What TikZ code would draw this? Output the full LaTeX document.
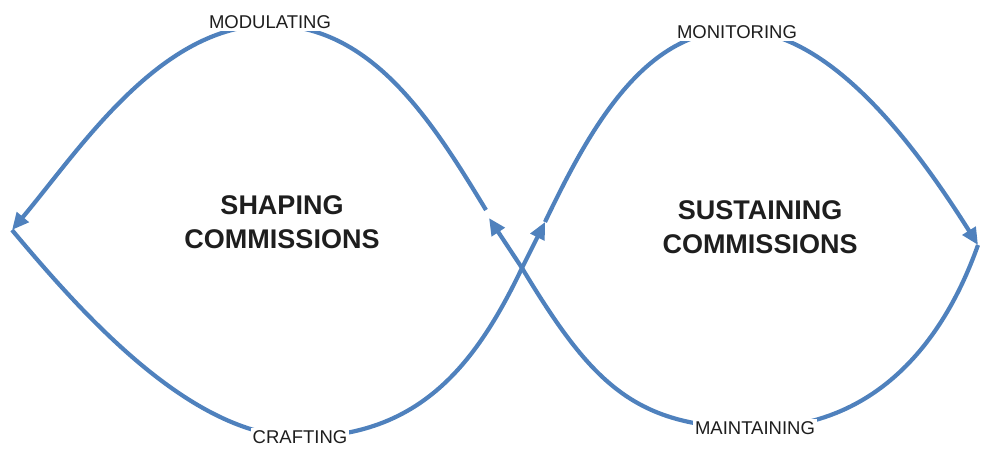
\documentclass[tikz,border=0pt]{standalone}
\usepackage{fontspec}
\setmainfont{Liberation Sans}
\usetikzlibrary{arrows.meta}
\definecolor{loopblue}{HTML}{4F81BD}
\definecolor{ink}{HTML}{1E1E1E}
\tikzset{
  loop/.style={draw=loopblue, line width=4.2pt, line cap=butt},
  tip/.style={-{Triangle[length=17pt,width=15pt]}},
  phase/.style={fill=white, text=ink, inner sep=2pt, font=\fontsize{18.5}{20}\selectfont},
  title/.style={text=ink, align=center, font=\fontsize{27}{34}\selectfont\bfseries}
}
\begin{document}
\begin{tikzpicture}[x=1pt,y=-1pt]
\useasboundingbox (0,0) rectangle (981,449);
% key points of the figure-eight
\coordinate (L)  at (12,230);
\coordinate (T1) at (270,25);
\coordinate (B1) at (300,437);
\coordinate (C)  at (522,268);
\coordinate (A1) at (545,222);
\coordinate (A2) at (489,218);
\coordinate (S1) at (486,210);
\coordinate (T2) at (737,30);
\coordinate (B2) at (755,428);
\coordinate (R)  at (978,245);

% left lens, top: back towards the left tip
\draw[loop,tip] (S1) .. controls (432,121) and (372,25) .. (T1)
  .. controls (160,25) and (80,149) .. (L);
% left lens, bottom, then up through the crossing
\draw[loop,tip] (L) .. controls (80,311) and (190,437) .. (B1)
  .. controls (420,437) and (476,364) .. (C) -- (A1);
% right lens, top: out to the right tip
\draw[loop,tip] (A1) .. controls (591,126) and (645,30) .. (T2)
  .. controls (830,30) and (915,145) .. (R);
% right lens, bottom, then up through the crossing
\draw[loop,tip] (R) .. controls (960,295) and (905,428) .. (B2)
  .. controls (635,428) and (592,384) .. (C) -- (A2);

% phase labels
\node[phase] (mod) at (270,22) {MODULATING};
\node[phase] (mon) at (737,32) {MONITORING};
\node[phase] (cra) at (300,437) {CRAFTING};
\node[phase] (mai) at (755,428) {MAINTAINING};

% lens titles
\node[title] (shape) at (282,222) {SHAPING\\COMMISSIONS};
\node[title] (sustain) at (760,227) {SUSTAINING\\COMMISSIONS};
\end{tikzpicture}
\end{document}
